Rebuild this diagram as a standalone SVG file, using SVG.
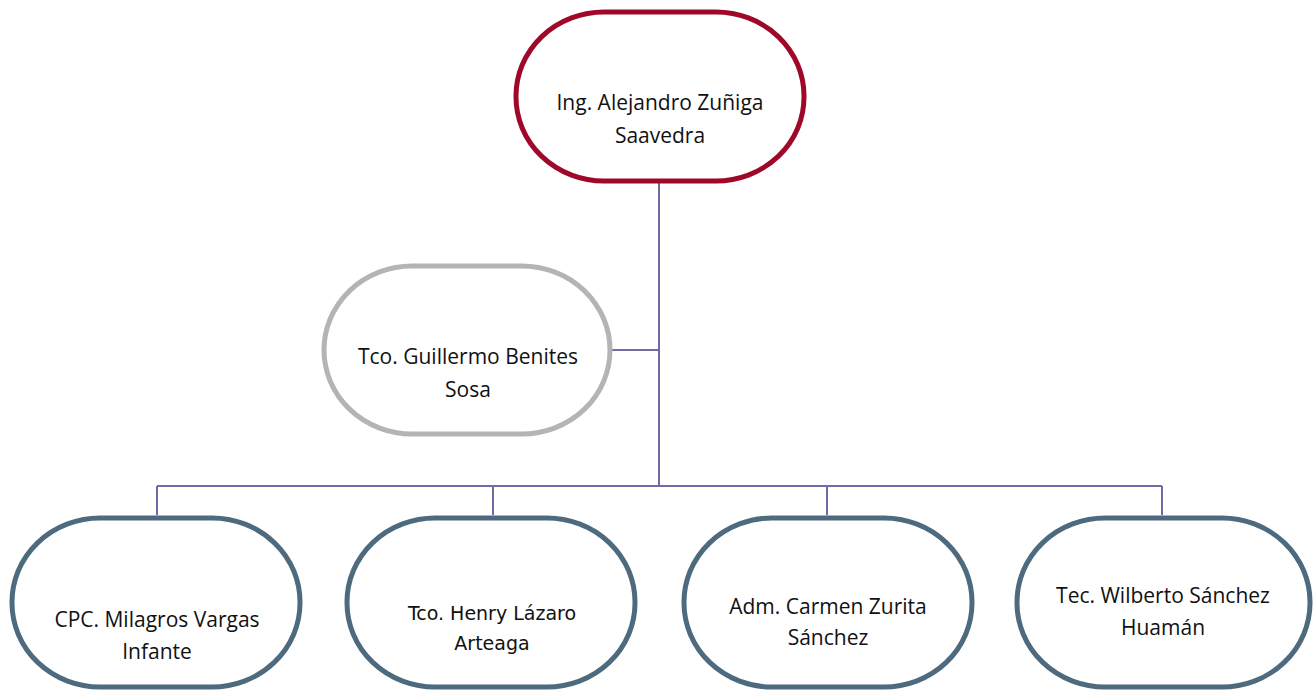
<svg xmlns="http://www.w3.org/2000/svg" width="1316" height="690" viewBox="0 0 1316 690">
<style>
.n{fill:#fff;stroke-width:5}
.red{stroke:#A0082A}
.gray{stroke:#B4B4B4}
.blue{stroke:#4D6A7F}
.t{font-family:"Open Sans","Liberation Sans",Arial,sans-serif;font-size:21px;fill:#111;text-anchor:middle}
.tv{font-family:"DejaVu Sans",Verdana,sans-serif;font-size:19px}
.c{fill:none;stroke:#6E6CA6;stroke-width:2}
</style>
<rect width="1316" height="690" fill="#fff"/>
<g id="connectors">
<path class="c" d="M659 183V486M612 350H659M157 486H1162M157 486V515M493 486V515M827 486V515M1162 486V515"/>
</g>
<g id="n-top">
<rect class="n red" x="516" y="12" width="288" height="169" rx="88" ry="84"/>
<text class="t" x="660" y="110">Ing. Alejandro Zuñiga</text>
<text class="t" x="660" y="143">Saavedra</text>
</g>
<g id="n-guillermo">
<rect class="n gray" x="324" y="266" width="286" height="168" rx="88" ry="84"/>
<text class="t" x="468" y="364">Tco. Guillermo Benites</text>
<text class="t" x="468" y="397">Sosa</text>
</g>
<g id="n-milagros">
<rect class="n blue" x="12" y="518" width="288" height="169" rx="88" ry="84"/>
<text class="t" x="157" y="627">CPC. Milagros Vargas</text>
<text class="t" x="157" y="659">Infante</text>
</g>
<g id="n-henry">
<rect class="n blue" x="347" y="518" width="288" height="169" rx="88" ry="84"/>
<text class="t tv" x="492" y="620">Tco. Henry Lázaro</text>
<text class="t tv" x="492" y="650">Arteaga</text>
</g>
<g id="n-carmen">
<rect class="n blue" x="684" y="518" width="288" height="169" rx="88" ry="84"/>
<text class="t" x="828" y="614">Adm. Carmen Zurita</text>
<text class="t" x="828" y="645">Sánchez</text>
</g>
<g id="n-wilberto">
<rect class="n blue" x="1017" y="518" width="293" height="169" rx="88" ry="84"/>
<text class="t" x="1163" y="603">Tec. Wilberto Sánchez</text>
<text class="t" x="1163" y="635">Huamán</text>
</g>
</svg>
